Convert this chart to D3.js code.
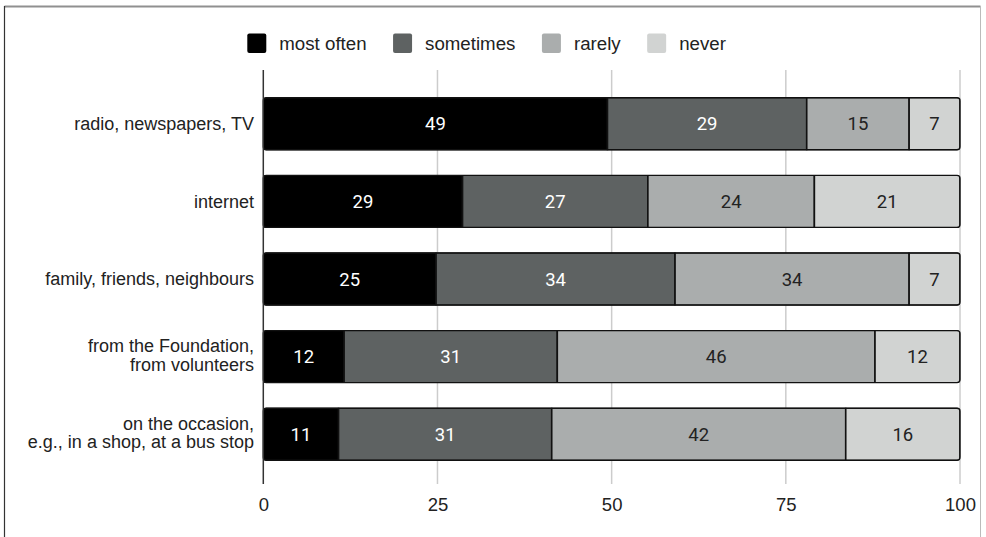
<!DOCTYPE html>
<html>
<head>
<meta charset="utf-8">
<script src="https://cdn.jsdelivr.net/npm/d3@7/dist/d3.min.js"></script>
<style>
  html, body { margin: 0; padding: 0; background: #fff; }
  svg { display: block; }
</style>
</head>
<body>
<svg id="chart" width="986" height="537"></svg>
<script>
// Sources of information, share of answers (%)
const categories = [
  "radio, newspapers, TV",
  "internet",
  "family, friends, neighbours",
  "from the Foundation,\nfrom volunteers",
  "on the occasion,\ne.g., in a shop, at a bus stop"
];
const seriesNames = ["most often", "sometimes", "rarely", "never"];
const mostOften = [49.4, 28.6, 24.8, 11.6, 10.8];
const sometimes = [28.6, 26.6, 34.3, 30.6, 30.6];
const rarely    = [14.7, 23.9, 33.6, 45.6, 42.2];
const never     = [7.3, 20.9, 7.3, 12.2, 16.4];
const xTicks = [0, 25, 50, 75, 100];

const colors = ["#000000", "#5e6262", "#aaadad", "#d1d3d2"];
const labelColors = ["#ffffff", "#ffffff", "#222222", "#222222"];
const seriesValues = [mostOften, sometimes, rarely, never];

const rows = categories.map((c, i) => {
  const row = { category: c };
  seriesNames.forEach((s, j) => { row[s] = seriesValues[j][i]; });
  return row;
});

const svg = d3.select("#chart");
const labelFont = "'Liberation Sans', Arial, sans-serif";
const numFont = "Roboto, 'Liberation Sans', sans-serif";

// outer frame
svg.append("line").attr("x1", 4.5).attr("x2", 980.5).attr("y1", 6.5).attr("y2", 6.5)
  .attr("stroke", "#909090").attr("stroke-width", 2);
svg.append("line").attr("x1", 4.5).attr("x2", 4.5).attr("y1", 6).attr("y2", 537)
  .attr("stroke", "#333").attr("stroke-width", 1.2);
svg.append("line").attr("x1", 980.5).attr("x2", 980.5).attr("y1", 6).attr("y2", 537)
  .attr("stroke", "#bbb").attr("stroke-width", 1);

const x = d3.scaleLinear().domain([0, 100]).range([263.3, 960]);
const y = d3.scaleBand().domain(categories).range([85, 473])
  .paddingInner(0.32).paddingOuter(0.16);
const plotTop = 70, plotBottom = 484;

// gridlines
svg.append("g").selectAll("line").data(xTicks.filter(t => t > 0)).join("line")
  .attr("x1", d => x(d)).attr("x2", d => x(d))
  .attr("y1", plotTop).attr("y2", plotBottom)
  .attr("stroke", "#cccccc").attr("stroke-width", 1.5);

// x axis tick labels
const xAxis = d3.axisBottom(x).tickValues(xTicks).tickSize(0).tickPadding(0);
const gx = svg.append("g").attr("transform", `translate(0,${plotBottom})`).call(xAxis);
gx.select(".domain").remove();
gx.selectAll("text")
  .attr("y", 14).attr("dy", "0.71em")
  .attr("font-family", labelFont).attr("font-size", 18.5).attr("fill", "#222");

// stacked bars
const stack = d3.stack().keys(seriesNames);
const stacked = stack(rows);

const defs = svg.append("defs");
rows.forEach((r, i) => {
  const total = seriesNames.reduce((a, s) => a + r[s], 0);
  defs.append("clipPath").attr("id", "clip" + i).append("rect")
    .attr("x", x(0)).attr("y", y(r.category))
    .attr("width", x(total) - x(0)).attr("height", y.bandwidth())
    .attr("rx", 3);
});

const barsG = svg.append("g");
rows.forEach((r, i) => {
  const g = barsG.append("g").attr("clip-path", `url(#clip${i})`);
  stacked.forEach((layer, j) => {
    const d = layer[i];
    g.append("rect")
      .attr("x", x(d[0])).attr("y", y(r.category))
      .attr("width", x(d[1]) - x(d[0])).attr("height", y.bandwidth())
      .attr("fill", colors[j]).attr("stroke", "#111").attr("stroke-width", 1.6);
  });
  const total = seriesNames.reduce((a, s) => a + r[s], 0);
  barsG.append("rect")
    .attr("x", x(0)).attr("y", y(r.category) + 0.4)
    .attr("width", x(total) - x(0)).attr("height", y.bandwidth() - 0.8)
    .attr("rx", 3).attr("fill", "none").attr("stroke", "#111").attr("stroke-width", 1.4);
});

// value labels
stacked.forEach((layer, j) => {
  svg.append("g").selectAll("text").data(layer).join("text")
    .attr("x", d => (x(d[0]) + x(d[1])) / 2)
    .attr("y", d => y(d.data.category) + y.bandwidth() / 2)
    .attr("dy", "0.36em")
    .attr("text-anchor", "middle")
    .attr("font-family", numFont).attr("font-size", 18.5)
    .attr("fill", labelColors[j])
    .text(d => Math.round(d[1] - d[0]));
});

// zero axis line
svg.append("line").attr("x1", x(0)).attr("x2", x(0))
  .attr("y1", plotTop).attr("y2", plotBottom)
  .attr("stroke", "#333").attr("stroke-width", 1.5);

// category labels
const yAxisG = svg.append("g");
categories.forEach(c => {
  const lines = c.split("\n");
  const lh = 18.5;
  const cy = y(c) + y.bandwidth() / 2 - (lines.length > 1 ? 1.5 : 0);
  const t = yAxisG.append("text")
    .attr("text-anchor", "end")
    .attr("font-family", labelFont).attr("font-size", 18)
    .attr("fill", "#222");
  lines.forEach((ln, k) => {
    t.append("tspan").attr("x", 254)
      .attr("y", cy + (k - (lines.length - 1) / 2) * lh)
      .attr("dy", "0.35em").text(ln);
  });
});

// legend
const legend = svg.append("g");
let lx = 247.3;
seriesNames.forEach((s, j) => {
  legend.append("rect").attr("x", lx).attr("y", 33.5).attr("width", 19).attr("height", 19.5)
    .attr("rx", 2).attr("fill", colors[j]);
  const t = legend.append("text").attr("x", lx + 32).attr("y", 43.5).attr("dy", "0.35em")
    .attr("font-family", labelFont).attr("font-size", 18.7).attr("fill", "#222").text(s);
  lx += 32 + t.node().getComputedTextLength() + 26.5;
});
</script>
</body>
</html>
